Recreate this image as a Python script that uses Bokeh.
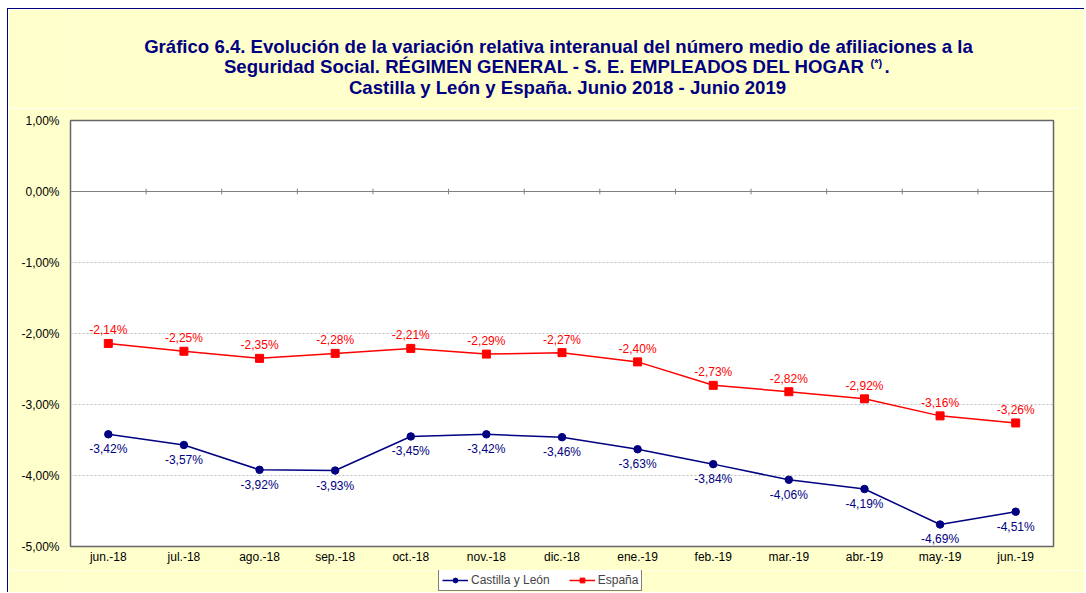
from bokeh.plotting import figure
from bokeh.layouts import column
from bokeh.models import (ColumnDataSource, FactorRange, Range1d, FixedTicker, Label,
                          Legend, LegendItem, Span)
from bokeh.core.properties import value
from bokeh.embed import file_html
from bokeh.resources import INLINE

# ---------------- data ----------------
months = ["jun.-18", "jul.-18", "ago.-18", "sep.-18", "oct.-18", "nov.-18", "dic.-18",
          "ene.-19", "feb.-19", "mar.-19", "abr.-19", "may.-19", "jun.-19"]
cyl = [-3.42, -3.57, -3.92, -3.93, -3.45, -3.42, -3.46, -3.63, -3.84, -4.06, -4.19, -4.69, -4.51]
esp = [-2.14, -2.25, -2.35, -2.28, -2.21, -2.29, -2.27, -2.40, -2.73, -2.82, -2.92, -3.16, -3.26]
y_ticks = [1, 0, -1, -2, -3, -4, -5]
y_tick_labels = ["1,00%", "0,00%", "-1,00%", "-2,00%", "-3,00%", "-4,00%", "-5,00%"]
series_names = ["Castilla y León", "España"]
title_line1 = "Gráfico 6.4. Evolución de la variación relativa interanual del número medio de afiliaciones a la"
title_line2 = "Seguridad Social. RÉGIMEN GENERAL - S. E. EMPLEADOS DEL HOGAR"
title_note = "(*)"
title_line3 = "Castilla y León y España. Junio 2018 - Junio 2019"


def fmt(v):
    return f"{v:.2f}".replace(".", ",") + "%"


# ---------------- layout constants (page pixels) ----------------
OX, OY = 8, 9            # page position of the chart content (after margin + border)
W = 1076
TITLE_H = 99
ML, MR, MT, MB = 62, 31, 12, 24
FRAME_H = 426
MAIN_H = MT + FRAME_H + MB
LEG_H = 22
FRAME_L = OX + ML                # 70
FRAME_R = OX + W - MR            # 1053
FONT = "Liberation Sans"
NAVY = "#000080"
RED = "#FF0000"
BG = "#FFFFCC"
TS = "18.6px"

# ---------------- title figure (frame aligned with the main frame; data = page px) ----------------
tf = figure(width=W, height=TITLE_H, x_range=Range1d(FRAME_L, FRAME_R),
            y_range=Range1d(OY + TITLE_H, OY),
            x_axis_location=None, y_axis_location=None, output_backend="svg",
            toolbar_location=None, min_border=0)
tf.grid.visible = False
tf.outline_line_color = None
tf.background_fill_color = BG
tf.border_fill_color = BG


def title_label(x, y, text, align, size=TS):
    tf.add_layout(Label(x=x, y=y, text=text, text_font=FONT, text_font_size=size,
                        text_font_style="bold", text_color=NAVY, text_align=align,
                        text_baseline="middle"))


title_label(558, 46, title_line1, "center")
title_label(864, 66, title_line2, "right")
title_label(870, 62, title_note, "left", "11px")
title_label(884, 66, ".", "left")
title_label(567, 87, title_line3, "center")

# ---------------- main figure ----------------
p = figure(width=W, height=MAIN_H, x_range=FactorRange(*months, range_padding=0),
           y_range=Range1d(min(y_ticks), max(y_ticks)),
           output_backend="svg", toolbar_location=None,
           min_border_left=ML, min_border_right=MR, min_border_top=MT, min_border_bottom=MB)
p.background_fill_color = "white"
p.border_fill_color = BG
p.outline_line_color = "#666666"
p.outline_line_width = 1.5

p.yaxis.ticker = FixedTicker(ticks=y_ticks)
p.yaxis.major_label_overrides = {t: l for t, l in zip(y_ticks, y_tick_labels)}
for ax in (p.xaxis[0], p.yaxis[0]):
    ax.axis_line_color = None
    ax.major_tick_line_color = None
    ax.minor_tick_line_color = None
    ax.major_tick_out = 0
    ax.major_tick_in = 0
    ax.minor_tick_out = 0
    ax.minor_tick_in = 0
    ax.major_label_text_font = FONT
    ax.major_label_text_font_size = "12px"
    ax.major_label_text_color = "black"
p.yaxis.major_label_standoff = 11
p.xaxis.major_label_standoff = 3

p.xgrid.grid_line_color = None
p.ygrid.ticker = FixedTicker(ticks=[t for t in y_ticks if min(y_ticks) < t < 0])
p.ygrid.grid_line_color = "#BDBDBD"
p.ygrid.grid_line_dash = "2 2"
p.ygrid.grid_line_width = 1

# zero line with category tick marks
p.add_layout(Span(location=0, dimension="width", line_color="#808080", line_width=1))
bounds = list(range(1, len(months)))
p.segment(x0=bounds, y0=[-0.04] * len(bounds), x1=bounds, y1=[0.04] * len(bounds),
          line_color="#808080", line_width=1)

src = ColumnDataSource(dict(m=months, cyl=cyl, esp=esp,
                            cyl_l=[fmt(v) for v in cyl], esp_l=[fmt(v) for v in esp]))

p.line("m", "cyl", source=src, line_color=NAVY, line_width=1.5)
p.scatter("m", "cyl", source=src, marker="circle", size=7.5, fill_color=NAVY, line_color=NAVY)
p.line("m", "esp", source=src, line_color=RED, line_width=1.5)
p.scatter("m", "esp", source=src, marker="square", size=8, fill_color=RED, line_color=RED)

p.text("m", "cyl", text="cyl_l", source=src, text_font=value(FONT), text_font_size="12px",
       text_color=NAVY, text_align="center", text_baseline="middle", y_offset=15)
p.text("m", "esp", text="esp_l", source=src, text_font=value(FONT), text_font_size="12px",
       text_color=RED, text_align="center", text_baseline="middle", y_offset=-13)

# ---------------- legend figure ----------------
lf = figure(width=W, height=LEG_H, x_range=FactorRange(*months, range_padding=0),
            y_range=Range1d(0, 1), x_axis_location=None, y_axis_location=None,
            output_backend="svg", toolbar_location=None, min_border=0)
lf.grid.visible = False
lf.outline_line_color = None
lf.background_fill_color = BG
lf.border_fill_color = BG
# same series (outside this strip's visible range) so the legend shows their glyphs
ll1 = lf.line("m", "cyl", source=src, line_color=NAVY, line_width=1.5)
ls1 = lf.scatter("m", "cyl", source=src, marker="circle", size=7.5, fill_color=NAVY, line_color=NAVY)
ll2 = lf.line("m", "esp", source=src, line_color=RED, line_width=1.5)
ls2 = lf.scatter("m", "esp", source=src, marker="square", size=8, fill_color=RED, line_color=RED)

legend = Legend(items=[LegendItem(label=series_names[0], renderers=[ll1, ls1]),
                       LegendItem(label=series_names[1], renderers=[ll2, ls2])],
                orientation="horizontal", location=(438 - FRAME_L, 1),
                label_text_font=FONT, label_text_font_size="12px",
                glyph_width=26, glyph_height=12, label_height=12, label_standoff=3,
                spacing=19, padding=3, margin=0,
                border_line_color="black", border_line_width=1,
                background_fill_color="white", background_fill_alpha=1)
lf.add_layout(legend, "center")

layout = column(tf, p, lf, spacing=0, margin=(8, 0, 0, 7),
                styles={"border-left": "1px solid #000080", "border-top": "1px solid #000080"})

open("out.html", "w").write(file_html(layout, INLINE))
